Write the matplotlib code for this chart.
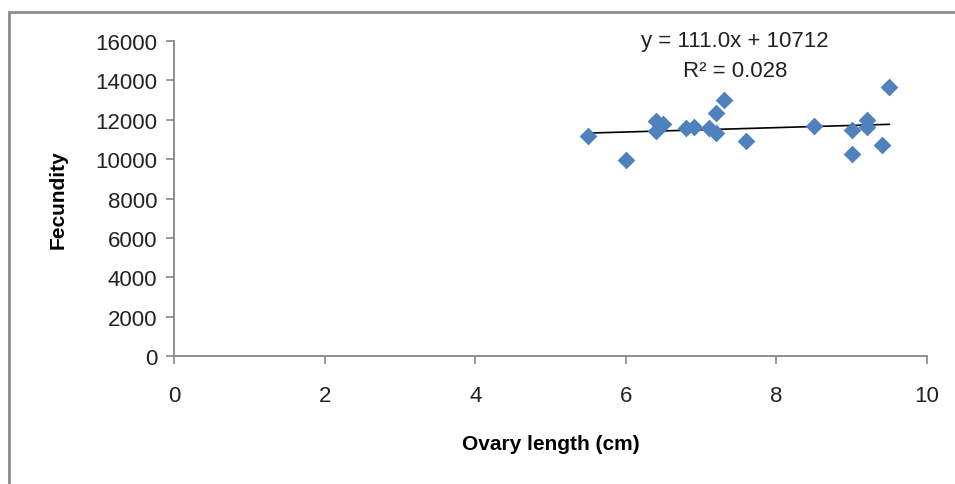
import matplotlib.pyplot as plt
from matplotlib.patches import Rectangle
import numpy as np

# ovary length (cm) and fecundity
ovary_length = [5.5, 6.0, 6.4, 6.4, 6.5, 6.8, 6.9, 7.1, 7.2, 7.2, 7.3, 7.6,
                8.5, 9.0, 9.0, 9.2, 9.2, 9.4, 9.5]
fecundity = [11150, 9950, 11950, 11450, 11800, 11600, 11650, 11580, 12350, 11350, 13000, 10900,
             11700, 11500, 10250, 11980, 11650, 10730, 13650]

# linear trend from the chart label
slope = 111.0
intercept = 10712
r2 = 0.028

plt.rcParams['font.family'] = ['Liberation Sans', 'DejaVu Sans']

fig = plt.figure(figsize=(9.55, 4.85), dpi=100)
ax = fig.add_axes([174 / 955, 1 - 357 / 485, (927 - 174) / 955, (357 - 42) / 485])

# gray frame of the chart area
fig.patches.append(Rectangle((8.5 / 955, -0.05), 1.0, 1 - 12.5 / 485 + 0.05,
                             transform=fig.transFigure, fill=False,
                             edgecolor="#8c8c8c", linewidth=2, clip_on=False))

ax.scatter(ovary_length, fecundity, marker="D", s=9 ** 2, color="#4F81BD", zorder=3, linewidths=0)

xs = np.array([min(ovary_length), max(ovary_length)])
ax.plot(xs, slope * xs + intercept, color="black", linewidth=1.2, zorder=2)

ax.text(0.745, 1.0, "y = %.1fx + %d" % (slope, intercept), transform=ax.transAxes,
        ha="center", va="center", fontsize=16, color="#222222")
ax.text(0.745, 0.905, "R² = %.3f" % r2, transform=ax.transAxes,
        ha="center", va="center", fontsize=16, color="#222222")

ax.set_xlim(0, 10)
ax.set_ylim(0, 16000)
ax.set_xticks(range(0, 11, 2))
ax.set_yticks(range(0, 16001, 2000))

for side in ["top", "right"]:
    ax.spines[side].set_visible(False)
for side in ["left", "bottom"]:
    ax.spines[side].set_color("#868686")
    ax.spines[side].set_linewidth(1.3)

ax.tick_params(direction="out", length=6, width=1.2, color="#868686",
               labelsize=16, labelcolor="#222222")
ax.tick_params(axis="x", pad=15)
ax.tick_params(axis="y", pad=6)

ax.set_xlabel("Ovary length (cm)", fontsize=15, fontweight="bold", labelpad=20)
ax.set_ylabel("Fecundity", fontsize=15, fontweight="bold", labelpad=20)

fig.savefig("out.png", dpi=100)
